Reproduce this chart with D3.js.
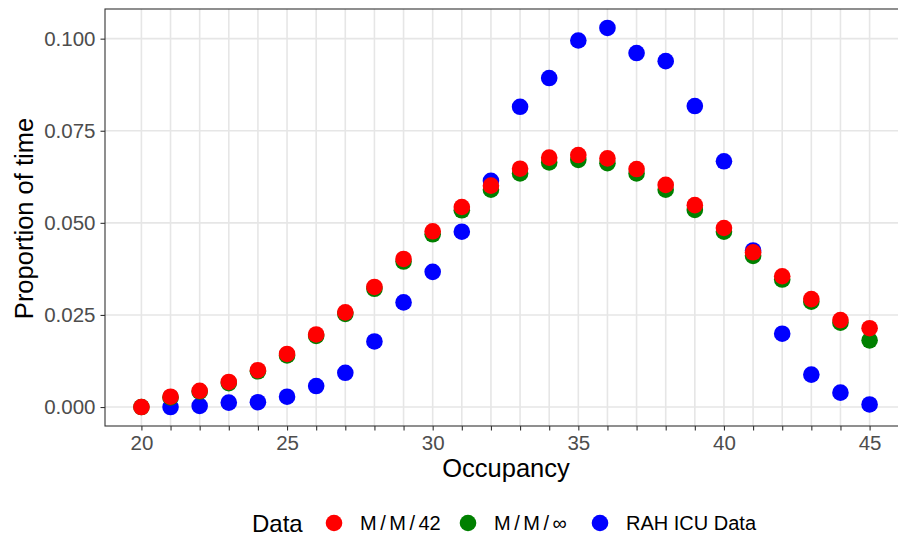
<!DOCTYPE html>
<html>
<head>
<meta charset="utf-8">
<script src="https://cdn.jsdelivr.net/npm/d3@7"></script>
<style>
  html, body { margin: 0; padding: 0; background: #fff; }
  svg { display: block; font-family: "Liberation Sans", Arial, Helvetica, sans-serif; }
</style>
</head>
<body>
<svg id="chart" width="898" height="540"></svg>
<script>
// Occupancy levels (beds in use)
const occupancy = d3.range(20, 46);

// Stationary occupancy distribution, M/M/42 queue
const mm42 = [0.0000, 0.0028, 0.0044, 0.0068, 0.0100, 0.0144, 0.0197, 0.0257, 0.0326, 0.0402,
              0.0477, 0.0543, 0.0601, 0.0647, 0.0677, 0.0684, 0.0675, 0.0646, 0.0603, 0.0548,
              0.0486, 0.0420, 0.0355, 0.0293, 0.0236, 0.0214];

// Stationary occupancy distribution, M/M/infinity queue
const mmInf = [0.0000, 0.0026, 0.0042, 0.0065, 0.0097, 0.0140, 0.0193, 0.0253, 0.0321, 0.0395,
               0.0469, 0.0534, 0.0590, 0.0634, 0.0664, 0.0671, 0.0662, 0.0634, 0.0590, 0.0535,
               0.0476, 0.0410, 0.0346, 0.0286, 0.0229, 0.0181];

// Observed ICU occupancy (from 21 beds upward)
const icuOccupancy = d3.range(21, 46);
const icuData = [0.0000, 0.0003, 0.0012, 0.0013, 0.0028, 0.0057, 0.0093, 0.0178, 0.0284,
                 0.0367, 0.0476, 0.0614, 0.0815, 0.0893, 0.0995, 0.1029, 0.0961, 0.0939,
                 0.0817, 0.0667, 0.0425, 0.0199, 0.0088, 0.0039, 0.0007];

const xBreaks = [20, 25, 30, 35, 40, 45];
const yBreaks = [0, 0.025, 0.05, 0.075, 0.1];

const seriesNames = ["M/M/42", "M/M/\u221E", "RAH ICU Data"];
const seriesColors = ["#FF0000", "#008000", "#0000FF"];

const svg = d3.select("#chart");
const panel = { left: 105, right: 906, top: 9, bottom: 426 };

const x = d3.scaleLinear().domain([18.75, 46.25]).range([panel.left, panel.right]);
const y = d3.scaleLinear().domain([-0.00515, 0.10805]).range([panel.bottom, panel.top]);

// panel background and grid
svg.append("rect")
  .attr("x", panel.left).attr("y", panel.top)
  .attr("width", panel.right - panel.left).attr("height", panel.bottom - panel.top)
  .attr("fill", "#fff");

const grid = svg.append("g");
grid.selectAll("line.v").data(occupancy).join("line")
  .attr("x1", d => x(d)).attr("x2", d => x(d))
  .attr("y1", panel.top).attr("y2", panel.bottom)
  .attr("stroke", "#E6E6E6").attr("stroke-width", 1.6);
grid.selectAll("line.h").data(yBreaks).join("line")
  .attr("x1", panel.left).attr("x2", panel.right)
  .attr("y1", d => y(d)).attr("y2", d => y(d))
  .attr("stroke", "#E6E6E6").attr("stroke-width", 1.6);

// points: ICU data first, then M/M/inf, then M/M/42 on top
const r = 8.3;
const pts = svg.append("g");
pts.selectAll("circle.icu").data(icuOccupancy.map((o, i) => [o, icuData[i]])).join("circle")
  .attr("cx", d => x(d[0])).attr("cy", d => y(d[1])).attr("r", r).attr("fill", seriesColors[2]);
pts.selectAll("circle.inf").data(occupancy.map((o, i) => [o, mmInf[i]])).join("circle")
  .attr("cx", d => x(d[0])).attr("cy", d => y(d[1])).attr("r", r).attr("fill", seriesColors[1]);
pts.selectAll("circle.m42").data(occupancy.map((o, i) => [o, mm42[i]])).join("circle")
  .attr("cx", d => x(d[0])).attr("cy", d => y(d[1])).attr("r", r).attr("fill", seriesColors[0]);

// panel border
svg.append("rect")
  .attr("x", panel.left).attr("y", panel.top)
  .attr("width", panel.right - panel.left).attr("height", panel.bottom - panel.top)
  .attr("fill", "none").attr("stroke", "#333333").attr("stroke-width", 1.1);

// axes
const xAxis = d3.axisBottom(x).tickValues(occupancy)
  .tickFormat(d => xBreaks.includes(d) ? d : "").tickSize(4.5).tickPadding(5);
const gx = svg.append("g").attr("transform", `translate(0,${panel.bottom})`).call(xAxis);
gx.select(".domain").remove();
gx.selectAll(".tick line").attr("stroke", "#333333").attr("stroke-width", 1.1);
gx.selectAll(".tick text").attr("fill", "#4D4D4D").style("font-size", "20.5px")
  .style("font-family", "Liberation Sans, Arial, sans-serif");

const yAxis = d3.axisLeft(y).tickValues(yBreaks).tickFormat(d3.format(".3f")).tickSize(4.5).tickPadding(5);
const gy = svg.append("g").attr("transform", `translate(${panel.left},0)`).call(yAxis);
gy.select(".domain").remove();
gy.selectAll(".tick line").attr("stroke", "#333333").attr("stroke-width", 1.1);
gy.selectAll(".tick text").attr("fill", "#4D4D4D").style("font-size", "20.5px")
  .style("font-family", "Liberation Sans, Arial, sans-serif");

// axis titles
svg.append("text").attr("x", 506).attr("y", 477)
  .attr("text-anchor", "middle").attr("font-size", 25.5).attr("fill", "#000")
  .text("Occupancy");
svg.append("text").attr("transform", `translate(33,${(panel.top + panel.bottom) / 2 + 1}) rotate(-90)`)
  .attr("text-anchor", "middle").attr("font-size", 25.5).attr("fill", "#000")
  .text("Proportion of time");

// legend
const legend = svg.append("g");
legend.append("text").attr("x", 252).attr("y", 531.5).attr("font-size", 24).attr("fill", "#000").text("Data");
const keyX = [334, 468, 600];
seriesNames.forEach((name, i) => {
  legend.append("circle").attr("cx", keyX[i]).attr("cy", 523).attr("r", r).attr("fill", seriesColors[i]);
  const t = legend.append("text").attr("x", keyX[i] + 26).attr("y", 530)
    .attr("font-size", 20).attr("fill", "#000");
  if (i < 2) {
    // operator-style spacing around the slashes
    const parts = name.split("/");
    parts.forEach((p, j) => {
      if (j > 0) t.append("tspan").attr("dx", 3.5).text("/");
      t.append("tspan").attr("dx", j > 0 ? 3.5 : 0).text(p);
    });
  } else {
    t.text(name);
  }
});
</script>
</body>
</html>
